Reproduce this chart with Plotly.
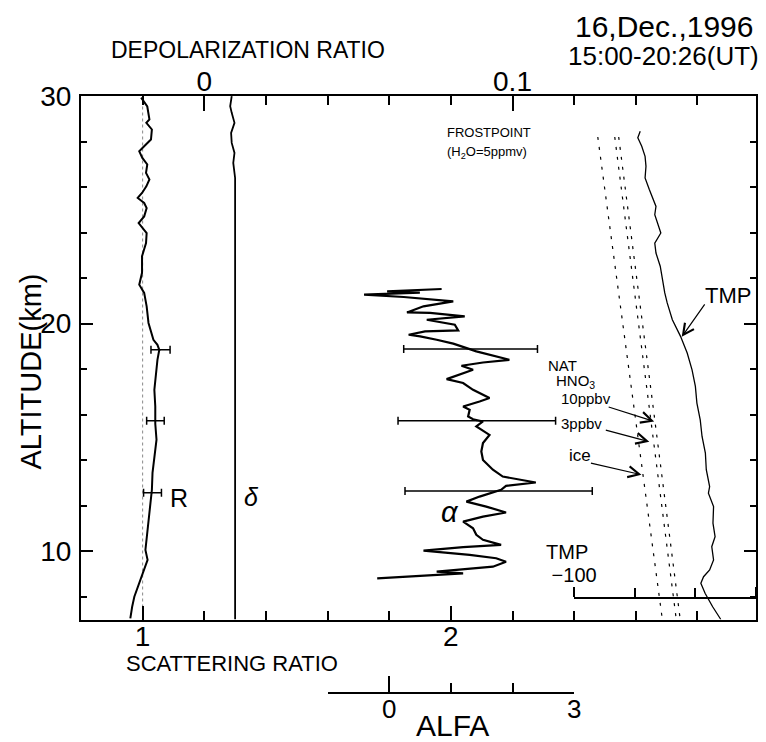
import plotly.graph_objects as go

# ---------------- data ----------------
# Scattering ratio R profile
alt_R = [29.93, 29.54, 28.97, 28.82, 28.53, 28.09, 27.79, 27.57, 27.28, 26.99, 26.62, 26.33,
         26.03, 25.74, 25.52, 25.30, 25.08, 24.71, 24.42, 24.20, 23.98, 23.54, 22.96, 22.23,
         21.71, 21.35, 20.76, 20.03, 19.55, 19.29, 19.07, 18.85, 18.41, 17.84, 17.09, 16.36,
         15.60, 14.90, 14.16, 13.44, 12.70, 11.96, 11.24, 10.50, 10.06, 9.62, 9.18, 8.61,
         8.00, 7.56, 7.05]
sr_R = [0.995, 1.015, 1.022, 1.012, 1.030, 1.027, 1.005, 0.989, 0.999, 1.015, 1.011, 1.022,
        1.012, 0.998, 0.984, 1.005, 1.013, 1.005, 0.987, 1.000, 1.013, 1.011, 0.998, 0.998,
        0.989, 1.005, 1.013, 1.019, 1.028, 1.035, 1.048, 1.054, 1.048, 1.043, 1.038, 1.041,
        1.041, 1.045, 1.038, 1.032, 1.030, 1.024, 1.019, 1.013, 1.009, 1.016, 1.005, 0.989,
        0.973, 0.966, 0.960]
alt_R_err = [18.85, 15.73, 12.57]
sr_R_err_center = [1.058, 1.0415, 1.032]
sr_R_err_half = [0.031, 0.0285, 0.029]

# Depolarization ratio delta
alt_dep = [29.99, 29.55, 29.26, 28.82, 28.38, 27.94, 27.50, 27.06, 26.40, 7.0]
dep_vals = [0.0089, 0.0084, 0.0089, 0.0098, 0.0087, 0.0089, 0.0098, 0.0094, 0.0100, 0.0100]

# ALFA profile
alt_alpha = [21.52, 21.42, 21.36, 21.27, 21.17, 20.98, 20.76, 20.49, 20.47, 20.32, 20.17, 19.95,
             19.70, 19.66, 19.51, 19.44, 19.29, 19.12, 18.88, 18.78, 18.41, 18.29, 18.15, 17.97,
             17.56, 17.39, 17.09, 16.73, 16.58, 16.36, 16.21, 15.92, 15.80, 15.70, 15.48, 15.11,
             14.75, 14.38, 14.01, 13.58, 13.28, 13.14, 13.02, 12.87, 12.70, 12.40, 12.18, 11.96,
             11.70, 11.52, 11.30, 11.01, 10.72, 10.50, 10.28, 10.18, 10.03, 9.84, 9.69, 9.54,
             9.32, 9.10, 9.03, 8.81]
alpha_vals = [0.850, -0.034, 0.497, -0.408, 0.235, 1.039, 0.556, 0.288, 0.662, 1.225, 0.609, 1.064,
              1.119, 0.582, 0.315, 0.502, 0.770, 1.039, 1.305, 1.413, 1.949, 1.521, 1.172, 1.360,
              0.931, 1.199, 1.360, 1.627, 1.466, 1.199, 1.305, 1.280, 1.360, 1.521, 1.413, 1.627,
              1.521, 1.494, 1.521, 1.682, 1.842, 2.164, 2.378, 1.895, 1.815, 1.466, 1.252, 1.574,
              1.895, 1.521, 1.199, 1.360, 1.413, 1.521, 1.815, 1.199, 0.556, 1.305, 1.735, 1.895,
              1.682, 0.770, 1.199, -0.195]
alt_alpha_err = [18.88, 15.73, 12.65]
alpha_err_center = [1.320, 1.421, 1.775]
alpha_err_half = [1.085, 1.278, 1.519]

# Temperature profile (deg C)
alt_T = [28.45, 28.17, 27.79, 27.35, 26.91, 26.40, 25.89, 25.45, 25.15, 24.79, 24.42, 23.98,
         23.54, 23.10, 22.52, 21.93, 21.35, 20.91, 20.17, 19.44, 18.71, 17.97, 17.24, 16.51,
         15.77, 15.04, 14.31, 13.58, 12.84, 12.55, 11.96, 11.23, 10.64, 10.20, 9.62, 9.18,
         8.88, 8.59, 8.15, 7.56, 7.0]
tmp_T = [-78.2, -79.0, -77.7, -76.6, -76.3, -76.6, -75.2, -73.8, -73.0, -73.4, -72.5, -71.4,
         -73.4, -73.0, -71.6, -70.9, -70.1, -69.3, -67.6, -64.9, -62.7, -61.1, -60.0, -59.5,
         -58.4, -57.8, -56.7, -56.4, -55.3, -55.7, -54.0, -54.2, -53.5, -54.6, -54.0, -55.3,
         -57.3, -58.2, -56.8, -54.3, -51.6]

# Frost point / NAT lines
alt_frost = [28.2, 7.1]
t_ice = [-92.2, -71.0]
t_nat3 = [-86.6, -66.4]
t_nat10 = [-85.3, -65.1]

# axis settings
sr_range = [0.8, 2.99]
dep_range = [-0.04, 0.179]
alpha_full_range = [-5.0, 5.95]
alt_range = [7, 30]
tmp_range = [-100, -40]
alfa_range = [-1, 3]

# ---------------- figure ----------------
W, H = 766, 742
ML, MR, MT, MB = 81, 3, 96, 49
PW, PH = W - ML - MR, H - MT - MB
FONT = "Liberation Sans, Arial, Helvetica, sans-serif"


def px(x):
    return (x - ML) / PW


def py(y):
    return (H - MB - y) / PH


fig = go.Figure()
blk = "black"

# SR = 1 dotted reference
fig.add_trace(go.Scatter(x=[1, 1], y=alt_range, mode="lines",
                         line=dict(color="#888", width=1, dash="dot"), hoverinfo="skip"))
# R profile
fig.add_trace(go.Scatter(x=sr_R, y=alt_R, mode="lines", line=dict(color=blk, width=2)))
fig.add_trace(go.Scatter(x=sr_R_err_center, y=alt_R_err, mode="markers",
                         marker=dict(size=1, color=blk),
                         error_x=dict(type="data", array=sr_R_err_half, color=blk,
                                      thickness=1.5, width=4)))
# depolarization
fig.add_trace(go.Scatter(x=dep_vals, y=alt_dep, xaxis="x2", mode="lines",
                         line=dict(color=blk, width=1.8)))
# ALFA
fig.add_trace(go.Scatter(x=alpha_vals, y=alt_alpha, xaxis="x5", mode="lines",
                         line=dict(color=blk, width=2.2)))
fig.add_trace(go.Scatter(x=alpha_err_center, y=alt_alpha_err, xaxis="x5", mode="markers",
                         marker=dict(size=1, color=blk),
                         error_x=dict(type="data", array=alpha_err_half, color=blk,
                                      thickness=1.5, width=4)))
# temperature & frost point lines
fig.add_trace(go.Scatter(x=tmp_T, y=alt_T, xaxis="x3", mode="lines",
                         line=dict(color=blk, width=1.3)))
for tv in (t_ice, t_nat3, t_nat10):
    fig.add_trace(go.Scatter(x=tv, y=alt_frost, xaxis="x3", mode="lines",
                             line=dict(color=blk, width=1.2, dash="3px,7px")))
# dummy for ALFA axis
fig.add_trace(go.Scatter(x=[0], y=[20], xaxis="x4", mode="markers",
                         marker=dict(size=1, opacity=0), hoverinfo="skip"))

axcommon = dict(showgrid=False, zeroline=False, showline=True, linecolor=blk,
                linewidth=2, tickcolor=blk, tickwidth=1.5)

fig.update_layout(
    width=W, height=H, autosize=False,
    margin=dict(l=ML, r=MR, t=MT, b=MB, pad=0),
    paper_bgcolor="white", plot_bgcolor="rgba(0,0,0,0)",
    showlegend=False,
    font=dict(family=FONT, color=blk),
    xaxis=dict(range=sr_range, domain=[0, 1], anchor="y", tickmode="linear", tick0=0, dtick=1,
               ticks="inside", ticklen=14, mirror=True, tickfont=dict(size=28),
               ticklabelstandoff=-9,
               minor=dict(tick0=0, dtick=0.2, ticks="inside", ticklen=9, tickcolor=blk,
                          tickwidth=1.5, showgrid=False),
               **axcommon),
    xaxis2=dict(range=dep_range, overlaying="x", side="top", anchor="y", tickmode="linear",
                tick0=0, dtick=0.1, ticks="inside", ticklen=15, tickfont=dict(size=28),
                ticklabelstandoff=-8,
                minor=dict(tick0=0, dtick=0.02, ticks="inside", ticklen=9, tickcolor=blk,
                           tickwidth=1.5, showgrid=False),
                **axcommon),
    xaxis3=dict(range=tmp_range, domain=[(2.4 - sr_range[0]) / (sr_range[1] - sr_range[0]), 1],
                anchor="free", position=py(598), side="top", tickmode="linear",
                tick0=-100, dtick=60, ticks="outside", ticklen=10, tickfont=dict(size=20),
                ticklabelstandoff=-3,
                minor=dict(tick0=-100, dtick=20, ticks="outside", ticklen=9, tickcolor=blk,
                           tickwidth=1.5, showgrid=False),
                **axcommon),
    xaxis4=dict(range=alfa_range,
                domain=[(1.6 - sr_range[0]) / (sr_range[1] - sr_range[0]),
                        (2.4 - sr_range[0]) / (sr_range[1] - sr_range[0])],
                anchor="free", position=0, side="bottom", tickmode="linear", tick0=0, dtick=3,
                ticks="inside", ticklen=16, tickfont=dict(size=26), ticklabelstandoff=-7,
                minor=dict(tick0=0, dtick=1, ticks="inside", ticklen=9, tickcolor=blk,
                           tickwidth=1.5, showgrid=False),
                **axcommon),
    xaxis5=dict(range=alpha_full_range, overlaying="x", anchor="y", visible=False),
    yaxis=dict(range=alt_range, domain=[py(619.5), 1], anchor="x", tickmode="linear",
               tick0=0, dtick=10, ticks="inside", ticklen=12, mirror="ticks",
               tickfont=dict(size=28), ticklabelstandoff=2,
               minor=dict(tick0=0, dtick=2, ticks="inside", ticklen=6, tickcolor=blk,
                          tickwidth=1.5, showgrid=False),
               **axcommon),
)


def txt(t, x, y, size, xanchor="center", angle=0):
    fig.add_annotation(text=t, x=px(x), y=py(y), xref="paper", yref="paper",
                       showarrow=False, xanchor=xanchor, yanchor="middle",
                       textangle=angle, font=dict(size=size, family=FONT, color=blk))


txt("DEPOLARIZATION RATIO", 250, 50, 23)
txt("16,Dec.,1996", 762, 26, 30, xanchor="right")
txt("15:00-20:26(UT)", 768, 56, 26, xanchor="right")
txt("ALTITUDE(km)", 30, 372, 29, angle=-90)
txt("SCATTERING RATIO", 234, 663, 22)
txt("ALFA", 456, 725, 30)
txt("FROSTPOINT", 449, 132, 13, xanchor="left")
txt("(H<sub>2</sub>O=5ppmv)", 449, 152, 13, xanchor="left")
txt("NAT", 567, 365, 15)
txt("HNO<sub>3</sub>", 581, 381, 15)
txt("10ppbv", 591, 398, 15)
txt("3ppbv", 587, 423, 15)
txt("ice", 585, 455, 17)
txt("TMP", 572, 552, 20)
txt("TMP", 735, 295, 22)
txt("R", 180, 498, 25)
txt("<i>δ</i>", 253, 497, 25)
txt("<i>α</i>", 454, 512, 29)

# arrows: (T, alt) head, pixel offsets of tail
arrows = [(-64.5, 19.42, 24, -34), (-73.6, 15.70, -47, -15),
          (-75.2, 14.81, -45, -12), (-77.8, 13.36, -52, -12)]
for (tx, ta, dx, dy) in arrows:
    fig.add_annotation(text="", x=tx, y=ta, xref="x3", yref="y", ax=dx, ay=dy,
                       showarrow=True, arrowhead=5, arrowsize=1.8, arrowwidth=1.2,
                       arrowcolor=blk, standoff=0)

fig.write_html("out.html")
